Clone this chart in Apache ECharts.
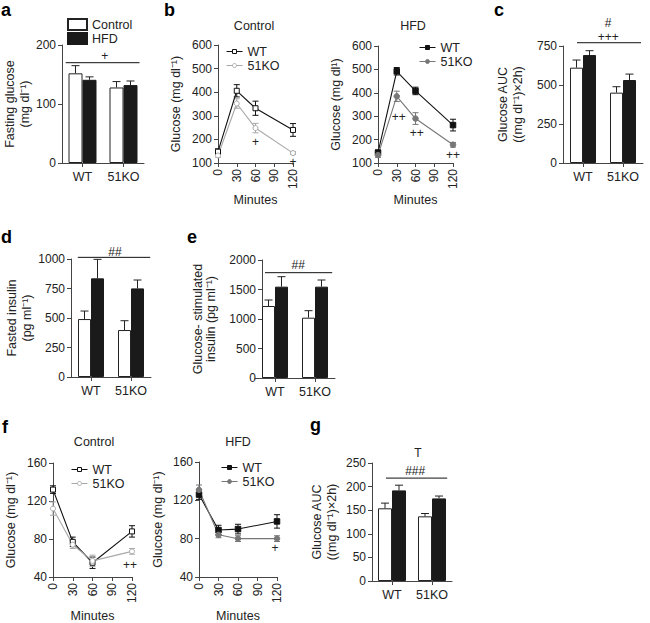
<!DOCTYPE html>
<html><head><meta charset="utf-8">
<script src="https://cdn.jsdelivr.net/npm/echarts@6/dist/echarts.min.js"></script>
<style>html,body{margin:0;padding:0;background:#fff}#c{width:650px;height:623px}</style>
</head><body><div id="c"></div>
<script>
// ---------- DATA ----------
const barCats = ['WT', '51KO'];
const minutes = [0, 30, 60, 120];
// a: fasting glucose
const aCtrl = [152, 128], aCtrlErr = [13, 10], aHfd = [141, 132], aHfdErr = [5, 7];
const aSig = [170], aNotes = ['+'], aNoteY = [181], aNoteX = [0.54];
// b control GTT
const bCtrlWT = [148, 406, 332, 240], bCtrlWTErr = [12, 26, 30, 27];
const bCtrlKO = [132, 352, 248, 142], bCtrlKOErr = [8, 20, 20, 6];
const bCtrlNotes = ['+', '+'], bCtrlNoteX = [60, 120], bCtrlNoteY = [190, 105];
// b HFD GTT
const bHfdWT = [144, 492, 408, 262], bHfdWTErr = [12, 16, 16, 25];
const bHfdKO = [134, 385, 290, 178], bHfdKOErr = [10, 22, 25, 10];
const bHfdNotes = ['++', '++', '++'], bHfdNoteX = [33, 62, 120], bHfdNoteY = [298, 227, 134];
// c: glucose AUC
const cCtrl = [611, 451], cCtrlErr = [49, 38], cHfd = [692, 532], cHfdErr = [28, 38];
const cSig = [771], cNotes = ['#', '+++'], cNoteY = [895, 806], cNoteX = [0.63, 0.63];
// d: fasted insulin
const dCtrl = [491, 398], dCtrlErr = [68, 79], dHfd = [836, 751], dHfdErr = [161, 71];
const dSig = [1014], dNotes = ['##'], dNoteY = [1062], dNoteX = [0.6];
// e: glucose-stimulated insulin
const eCtrl = [1220, 1022], eCtrlErr = [102, 119], eHfd = [1548, 1548], eHfdErr = [169, 113];
const eSig = [1785], eNotes = ['##'], eNoteY = [1920], eNoteX = [0.58];
// f control ITT
const fCtrlWT = [132, 77, 55, 88], fCtrlWTErr = [4, 5, 6, 6];
const fCtrlKO = [112, 74, 57, 67], fCtrlKOErr = [7, 4, 6, 3];
const fCtrlNotes = ['++'], fCtrlNoteX = [117], fCtrlNoteY = [53];
// f HFD ITT
const fHfdWT = [126, 89, 90, 98], fHfdWTErr = [5, 5, 5, 7];
const fHfdKO = [131, 84, 80, 80], fHfdKOErr = [5, 3, 3, 3];
const fHfdNotes = ['+'], fHfdNoteX = [117], fHfdNoteY = [70];
// g: ITT AUC
const gCtrl = [154, 137], gCtrlErr = [11, 6], gHfd = [192, 175], gHfdErr = [11, 5];
const gSig = [218], gNotes = ['T', '###'], gNoteY = [272, 233], gNoteX = [0.65, 0.58];

// ---------- STYLE ----------
const FONT = '"Liberation Sans", Arial, Helvetica, sans-serif';
const AX = '#444', TX = '#222';
const grids = [], xAxes = [], yAxes = [], series = [];

function yAxisCfg(gi, c) {
  return {
    gridIndex: gi, type: 'value', min: c.min, max: c.max, interval: c.interval, offset: c.yOffset || 0,
    name: c.yName, nameLocation: 'middle', nameGap: c.nameGap, nameRotate: 90,
    nameTextStyle: { fontSize: 12.5, color: TX, fontFamily: FONT, lineHeight: c.nameLH || 15 },
    axisLine: { show: true, lineStyle: { color: AX, width: 1 } },
    axisTick: { show: true, length: 4, lineStyle: { color: AX } },
    splitLine: { show: false },
    axisLabel: { fontSize: 12, color: TX, margin: 6, fontFamily: FONT, formatter: function (v) { return String(v); } }
  };
}

function textEl(x, y, t) {
  return { type: 'text', x: x, y: y, style: { text: t, fill: TX, font: '12px ' + FONT,
    align: 'center', verticalAlign: 'middle', textAlign: 'center', textVerticalAlign: 'middle' } };
}

function addBarPanel(c) {
  const gi = grids.length;
  grids.push({ left: c.left, top: c.top, width: c.width, height: c.height });
  xAxes.push({ gridIndex: gi, type: 'category', data: barCats,
    axisLine: { lineStyle: { color: AX, width: 1 } },
    axisTick: { show: true, alignWithLabel: true, interval: 0, length: 4, lineStyle: { color: AX } },
    axisLabel: { fontSize: 12.5, color: TX, margin: 7, interval: 0, hideOverlap: false, fontFamily: FONT } });
  yAxes.push(yAxisCfg(gi, c));
  const bw = c.bw;
  series.push({ type: 'bar', name: 'Control', xAxisIndex: gi, yAxisIndex: gi, data: c.ctrl,
    barWidth: bw, barGap: '0%', itemStyle: { color: '#fff', borderColor: '#222', borderWidth: 1 } });
  series.push({ type: 'bar', name: 'HFD', xAxisIndex: gi, yAxisIndex: gi, data: c.hfd,
    barWidth: bw, barGap: '0%', itemStyle: { color: '#1a1a1a', borderColor: '#1a1a1a', borderWidth: 1 } });
  [[c.ctrl, c.ctrlErr, -bw / 2], [c.hfd, c.hfdErr, bw / 2]].forEach(function (s) {
    const off = s[2];
    series.push({ type: 'custom', xAxisIndex: gi, yAxisIndex: gi, z: 5, silent: true,
      data: s[0].map(function (v, i) { return [i, v, s[1][i]]; }),
      renderItem: function (p, api) {
        const x = api.value(0), v = api.value(1), e = api.value(2);
        const b = api.coord([x, v]), t = api.coord([x, v + e]);
        const cx = b[0] + off;
        return { type: 'group', children: [
          { type: 'line', shape: { x1: cx, y1: b[1], x2: cx, y2: t[1] }, style: { stroke: '#222', lineWidth: 1 } },
          { type: 'line', shape: { x1: cx - 4, y1: t[1], x2: cx + 4, y2: t[1] }, style: { stroke: '#222', lineWidth: 1 } }
        ] };
      } });
  });
  series.push({ type: 'custom', xAxisIndex: gi, yAxisIndex: gi, silent: true, clip: false,
    data: c.sig.map(function (v) { return [0, v]; }),
    renderItem: function (p, api) {
      const y = api.value(1);
      const p0 = api.coord([0, y]), p1 = api.coord([1, y]);
      const d = p1[0] - p0[0];
      return { type: 'line', shape: { x1: p0[0] + c.sigExt[0] * d, y1: p0[1], x2: p0[0] + c.sigExt[1] * d, y2: p0[1] },
        style: { stroke: '#111', lineWidth: 1 } };
    } });
  series.push({ type: 'custom', xAxisIndex: gi, yAxisIndex: gi, silent: true, clip: false,
    data: c.noteY.map(function (v, i) { return [0, v, c.noteX[i]]; }),
    renderItem: function (p, api) {
      const y = api.value(1), f = api.value(2);
      const p0 = api.coord([0, y]), p1 = api.coord([1, y]);
      return textEl(p0[0] + f * (p1[0] - p0[0]), p0[1], c.notes[p.dataIndex]);
    } });
}

function addLinePanel(c) {
  const gi = grids.length;
  grids.push({ left: c.left, top: c.top, width: c.width, height: c.height });
  xAxes.push({ gridIndex: gi, type: 'value', min: 0, max: 120, interval: 30,
    name: 'Minutes', nameLocation: 'middle', nameGap: c.xNameGap,
    nameTextStyle: { fontSize: 12.5, color: TX, fontFamily: FONT },
    axisLine: { lineStyle: { color: AX, width: 1 } },
    axisTick: { show: true, length: 4, lineStyle: { color: AX } },
    splitLine: { show: false },
    axisLabel: { fontSize: 12, color: TX, margin: 6, rotate: 90, fontFamily: FONT } });
  yAxes.push(yAxisCfg(gi, c));
  c.lines.forEach(function (L) {
    series.push({ type: 'line', name: L.name, xAxisIndex: gi, yAxisIndex: gi, z: 6,
      data: minutes.map(function (m, i) { return [m, L.data[i]]; }),
      symbol: L.symbol, symbolSize: L.size, showSymbol: true,
      lineStyle: { color: L.color, width: 1.1 },
      itemStyle: { color: L.fill, borderColor: L.color, borderWidth: 1 } });
    series.push({ type: 'custom', xAxisIndex: gi, yAxisIndex: gi, z: 4, silent: true,
      data: minutes.map(function (m, i) { return [m, L.data[i], L.err[i]]; }),
      renderItem: function (p, api) {
        const x = api.value(0), v = api.value(1), e = api.value(2);
        const lo = api.coord([x, v - e]), hi = api.coord([x, v + e]);
        const st = { stroke: L.color, lineWidth: 1 };
        return { type: 'group', children: [
          { type: 'line', shape: { x1: lo[0], y1: lo[1], x2: hi[0], y2: hi[1] }, style: st },
          { type: 'line', shape: { x1: hi[0] - 3, y1: hi[1], x2: hi[0] + 3, y2: hi[1] }, style: st },
          { type: 'line', shape: { x1: lo[0] - 3, y1: lo[1], x2: lo[0] + 3, y2: lo[1] }, style: st }
        ] };
      } });
  });
  series.push({ type: 'custom', xAxisIndex: gi, yAxisIndex: gi, silent: true, clip: false,
    data: c.noteX.map(function (x, i) { return [x, c.noteY[i]]; }),
    renderItem: function (p, api) {
      const pt = api.coord([api.value(0), api.value(1)]);
      return textEl(pt[0], pt[1], c.notes[p.dataIndex]);
    } });
}

const ctrlWT = { symbol: 'rect', size: 5, color: '#111', fill: '#fff' };
const ctrlKO = { symbol: 'circle', size: 5, color: '#a8a8a8', fill: '#fff' };
const hfdWT = { symbol: 'rect', size: 5.5, color: '#111', fill: '#111' };
const hfdKO = { symbol: 'circle', size: 5.5, color: '#777', fill: '#777' };
function L(base, name, data, err) { return Object.assign({}, base, { name: name, data: data, err: err }); }

addBarPanel({ left: 62, top: 45, width: 82, height: 118, min: 0, max: 200, interval: 100, bw: 14,
  yName: 'Fasting glucose\n(mg dl\u207B\u00B9)', nameGap: 30,
  ctrl: aCtrl, ctrlErr: aCtrlErr, hfd: aHfd, hfdErr: aHfdErr,
  sig: aSig, sigExt: [-0.41, 1.39], notes: aNotes, noteX: aNoteX, noteY: aNoteY });
addLinePanel({ left: 218, top: 45, width: 75, height: 118, min: 100, max: 600, interval: 100,
  yName: 'Glucose (mg dl\u207B\u00B9)', nameGap: 35, xNameGap: 30,
  lines: [L(ctrlWT, 'WT', bCtrlWT, bCtrlWTErr), L(ctrlKO, '51KO', bCtrlKO, bCtrlKOErr)],
  notes: bCtrlNotes, noteX: bCtrlNoteX, noteY: bCtrlNoteY });
addLinePanel({ left: 378, top: 46, width: 75, height: 117, min: 100, max: 600, interval: 100,
  yName: 'Glucose (mg dl\u00B9)', nameGap: 35, xNameGap: 30,
  lines: [L(hfdWT, 'WT ', bHfdWT, bHfdWTErr), L(hfdKO, '51KO ', bHfdKO, bHfdKOErr)],
  notes: bHfdNotes, noteX: bHfdNoteX, noteY: bHfdNoteY });
addBarPanel({ left: 563, top: 46, width: 80, height: 117, min: 0, max: 750, interval: 250, bw: 13,
  yName: 'Glucose AUC\n((mg dl\u207B\u00B9)\u00D72h)', nameGap: 38,
  ctrl: cCtrl, ctrlErr: cCtrlErr, hfd: cHfd, hfdErr: cHfdErr,
  sig: cSig, sigExt: [-0.15, 1.45], notes: cNotes, noteX: cNoteX, noteY: cNoteY });
addBarPanel({ left: 71, top: 259, width: 80, height: 118, min: 0, max: 1000, interval: 250, bw: 13,
  yName: 'Fasted insulin\n(pg ml\u207B\u00B9)', nameGap: 32,
  ctrl: dCtrl, ctrlErr: dCtrlErr, hfd: dHfd, hfdErr: dHfdErr,
  sig: dSig, sigExt: [-0.33, 1.48], notes: dNotes, noteX: dNoteX, noteY: dNoteY });
addBarPanel({ left: 255, top: 260, width: 80, height: 118, min: 0, max: 2000, interval: 500, bw: 13, yOffset: -7,
  yName: 'Glucose- stimulated\ninsulin (pg ml\u207B\u00B9)', nameGap: 45, nameLH: 13,
  ctrl: eCtrl, ctrlErr: eCtrlErr, hfd: eHfd, hfdErr: eHfdErr,
  sig: eSig, sigExt: [-0.25, 1.43], notes: eNotes, noteX: eNoteX, noteY: eNoteY });
addLinePanel({ left: 53, top: 463, width: 79, height: 117, min: 40, max: 160, interval: 40,
  yName: 'Glucose (mg dl\u207B\u00B9)', nameGap: 35, xNameGap: 32,
  lines: [L(ctrlWT, 'WT', fCtrlWT, fCtrlWTErr), L(ctrlKO, '51KO', fCtrlKO, fCtrlKOErr)],
  notes: fCtrlNotes, noteX: fCtrlNoteX, noteY: fCtrlNoteY });
addLinePanel({ left: 199, top: 462, width: 78, height: 118, min: 40, max: 160, interval: 40,
  yName: 'Glucose (mg dl\u207B\u00B9)', nameGap: 34, xNameGap: 32,
  lines: [L(hfdWT, 'WT ', fHfdWT, fHfdWTErr), L(hfdKO, '51KO ', fHfdKO, fHfdKOErr)],
  notes: fHfdNotes, noteX: fHfdNoteX, noteY: fHfdNoteY });
addBarPanel({ left: 372, top: 463, width: 80, height: 118, min: 0, max: 250, interval: 50, bw: 14,
  yName: 'Glucose AUC\n((mg dl\u207B\u00B9)\u00D72h)', nameGap: 33,
  ctrl: gCtrl, ctrlErr: gCtrlErr, hfd: gHfd, hfdErr: gHfdErr,
  sig: gSig, sigExt: [-0.15, 1.38], notes: gNotes, noteX: gNoteX, noteY: gNoteY });

const legText = { fontSize: 12.5, color: TX, fontFamily: FONT };
function lineLegend(names, left, top) {
  return { data: names, left: left, top: top, orient: 'vertical', itemWidth: 16, itemHeight: 5,
    itemGap: 1, padding: 0, textStyle: legText, selectedMode: false,
    lineStyle: { width: 1 }, itemStyle: { borderWidth: 1 } };
}
function gText(x, y, t, bold, size) {
  return { type: 'text', x: x, y: y, silent: true, style: { text: t, fill: bold ? '#000' : TX,
    font: (bold ? 'bold ' : 'normal ') + size + 'px ' + FONT,
    align: bold ? 'left' : 'center', verticalAlign: 'middle',
    textAlign: bold ? 'left' : 'center', textVerticalAlign: 'middle' } };
}

const chart = echarts.init(document.getElementById('c'), null, { renderer: 'svg' });
chart.setOption({
  animation: false,
  backgroundColor: '#fff',
  textStyle: { fontFamily: FONT },
  grid: grids, xAxis: xAxes, yAxis: yAxes, series: series,
  legend: [
    { data: ['Control', 'HFD'], left: 67, top: 18, orient: 'vertical', icon: 'rect', itemWidth: 19, itemHeight: 11,
      itemGap: 1, padding: 0, textStyle: legText, selectedMode: false },
    lineLegend(['WT', '51KO'], 226, 45),
    lineLegend(['WT ', '51KO '], 419, 41),
    lineLegend(['WT', '51KO'], 71, 463),
    lineLegend(['WT ', '51KO '], 221, 461)
  ],
  graphic: [
    gText(1, 9.5, 'a', true, 18), gText(164, 9.5, 'b', true, 18), gText(494, 9.5, 'c', true, 18),
    gText(1, 236.5, 'd', true, 18), gText(187, 237, 'e', true, 18),
    gText(2, 426.5, 'f', true, 18), gText(310, 424.5, 'g', true, 18),
    gText(254, 26, 'Control', false, 12.5), gText(413, 26, 'HFD', false, 12.5),
    gText(94, 442, 'Control', false, 12.5), gText(238, 442, 'HFD', false, 12.5)
  ]
});
</script></body></html>
